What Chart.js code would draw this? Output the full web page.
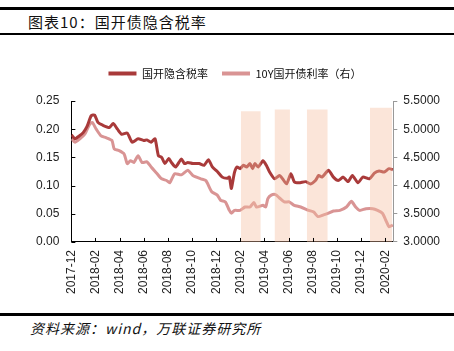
<!DOCTYPE html>
<html>
<head>
<meta charset="utf-8">
<script src="https://cdn.jsdelivr.net/npm/chart.js@4.4.0/dist/chart.umd.min.js"></script>
<style>
  html, body { margin: 0; padding: 0; background: #fff; }
  body { width: 454px; height: 351px; position: relative; overflow: hidden; }
  .rule { position: absolute; left: 0; width: 454px; background: #000; }
  #title { position: absolute; left: 28px; top: 11px; font: 15px "Noto Sans CJK SC"; color: #111; letter-spacing: 1px; }
  #source { position: absolute; left: 30px; top: 318px; font: italic 14px "Noto Sans CJK SC"; color: #111; letter-spacing: 1px; }
  #wrap { position: absolute; left: 0; top: 40px; width: 454px; height: 270px; }
</style>
</head>
<body>
<div class="rule" style="top:7px;height:2.5px"></div>
<div id="title">图表10：国开债隐含税率</div>
<div class="rule" style="top:33px;height:2px"></div>
<div id="wrap"><canvas id="chart"></canvas></div>
<div class="rule" style="top:313px;height:2.5px"></div>
<div id="source">资料来源：wind，万联证券研究所</div>
<script>
// x positions are months since 2017-12
const tickLabels = ["2017-12", "2018-02", "2018-04", "2018-06", "2018-08", "2018-10", "2018-12",
    "2019-02", "2019-04", "2019-06", "2019-08", "2019-10", "2019-12", "2020-02"];

const taxX = [0, 0.30, 0.65, 0.98, 1.30, 1.65, 1.93, 2.20, 2.60, 3.15, 3.47, 3.82, 4.17, 4.63, 5.04, 5.53,
    5.99, 6.26, 6.61, 6.93, 7.21, 7.48, 7.75, 8.07, 8.29, 8.64, 9.11, 9.37, 9.65, 10.06, 10.59, 11.0,
    11.36, 11.68, 12.09, 12.50, 12.90, 13.09, 13.25, 13.36, 13.52, 13.72, 13.98, 14.25, 14.53, 14.80,
    15.02, 15.20, 15.47, 15.88, 16.15, 16.42, 16.83, 17.24, 17.50, 17.83, 18.19, 18.46, 18.86, 19.41,
    19.81, 20.22, 20.49, 20.76, 21.30, 21.71, 22.11, 22.52, 22.93, 23.28, 23.74, 24.15, 24.69, 25.10,
    25.50, 25.91, 26.32, 26.63];
const taxRate = [0.190, 0.183, 0.188, 0.194, 0.205, 0.224, 0.225, 0.212, 0.207, 0.203, 0.210, 0.200, 0.191,
    0.193, 0.177, 0.183, 0.180, 0.181, 0.177, 0.183, 0.153, 0.150, 0.139, 0.148, 0.141, 0.133, 0.147,
    0.139, 0.141, 0.139, 0.139, 0.136, 0.146, 0.133, 0.125, 0.115, 0.113, 0.115, 0.095, 0.106, 0.124,
    0.133, 0.130, 0.136, 0.133, 0.139, 0.130, 0.139, 0.133, 0.144, 0.136, 0.124, 0.112, 0.118, 0.112,
    0.103, 0.121, 0.107, 0.105, 0.107, 0.103, 0.109, 0.118, 0.115, 0.127, 0.115, 0.109, 0.115, 0.107,
    0.118, 0.105, 0.115, 0.112, 0.122, 0.126, 0.124, 0.130, 0.128];

const yieldX = [0, 0.30, 0.71, 1.11, 1.52, 1.73, 2.06, 2.46, 2.87, 3.36, 3.55, 3.96, 4.37, 4.63, 4.90,
    5.18, 5.53, 5.85, 6.26, 6.61, 7.07, 7.48, 7.89, 8.15, 8.56, 9.11, 9.65, 10.06, 10.73, 11.14, 11.63,
    12.09, 12.36, 12.76, 13.09, 13.25, 13.52, 13.98, 14.39, 14.80, 15.12, 15.34, 15.88, 16.10, 16.28,
    16.56, 16.91, 17.24, 17.64, 18.05, 18.46, 19.0, 19.67, 20.08, 20.43, 20.89, 21.30, 21.71, 22.25,
    22.79, 23.20, 23.55, 23.88, 24.41, 24.96, 25.37, 25.77, 26.04, 26.32, 26.63];
const yield10Y = [4.83, 4.77, 4.83, 4.91, 5.09, 5.12, 5.00, 4.88, 4.85, 4.80, 4.65, 4.62, 4.56, 4.39,
    4.44, 4.41, 4.53, 4.41, 4.42, 4.33, 4.22, 4.12, 4.09, 4.05, 4.21, 4.19, 4.27, 4.18, 4.12, 4.09,
    3.89, 3.83, 3.74, 3.71, 3.56, 3.51, 3.56, 3.56, 3.62, 3.62, 3.70, 3.62, 3.65, 3.62, 3.77, 3.83,
    3.84, 3.78, 3.71, 3.71, 3.65, 3.62, 3.56, 3.53, 3.45, 3.48, 3.51, 3.55, 3.56, 3.62, 3.72, 3.62,
    3.56, 3.59, 3.59, 3.56, 3.51, 3.39, 3.27, 3.30];

// shaded periods: start, end (months) and top (left axis units)
const bandStart = [14.04, 16.83, 19.51, 24.74];
const bandEnd = [15.69, 18.11, 21.24, 26.59];
const bandTop = [0.232, 0.235, 0.235, 0.238];

const darkRed = "#A93A3A";
const lightRed = "#D99494";

const datasets = [
    {
        label: "国开隐含税率",
        data: taxX.map((x, i) => ({ x: x, y: taxRate[i] })),
        borderColor: darkRed,
        backgroundColor: darkRed,
        borderWidth: 3,
        pointRadius: 0,
        tension: 0.2,
        yAxisID: "y",
        order: 3,
    },
    {
        label: "10Y国开债利率（右）",
        data: yieldX.map((x, i) => ({ x: x, y: yield10Y[i] })),
        borderColor: lightRed,
        backgroundColor: lightRed,
        borderWidth: 3,
        pointRadius: 0,
        tension: 0.2,
        yAxisID: "y1",
        order: 4,
    },
];

bandStart.forEach((s, i) => {
    datasets.push({
        label: "band" + i,
        data: [{ x: s, y: bandTop[i] }, { x: bandEnd[i], y: bandTop[i] }],
        borderWidth: 0,
        borderColor: "rgba(0,0,0,0)",
        backgroundColor: "rgba(245,190,160,0.4)",
        pointRadius: 0,
        fill: "origin",
        yAxisID: "y",
        order: 1,
    });
});

// small tick marks pointing into the plot
const innerTicks = {
    id: "innerTicks",
    afterDatasetsDraw(chart) {
        const ctx = chart.ctx;
        const xs = chart.scales.x;
        const ys = chart.scales.y;
        ctx.save();
        ctx.strokeStyle = "#000";
        ctx.lineWidth = 1;
        ctx.beginPath();
        xs.ticks.forEach((t) => {
            const px = Math.round(xs.getPixelForValue(t.value)) + 0.5;
            ctx.moveTo(px, xs.top);
            ctx.lineTo(px, xs.top - 4);
        });
        ys.ticks.forEach((t) => {
            const py = Math.round(ys.getPixelForValue(t.value)) + 0.5;
            ctx.moveTo(ys.right, py);
            ctx.lineTo(ys.right + 4, py);
        });
        ctx.stroke();
        ctx.restore();
    },
};

// extra space between legend and plot
const legendGap = {
    id: "legendGap",
    beforeInit(chart) {
        const fit = chart.legend.fit;
        chart.legend.fit = function () {
            fit.bind(chart.legend)();
            this.height += 12;
        };
    },
};

const tickFont = { family: "'Liberation Sans', Arial", size: 12 };

new Chart(document.getElementById("chart").getContext("2d"), {
    type: "line",
    data: { datasets: datasets },
    plugins: [innerTicks, legendGap],
    options: {
        responsive: true,
        maintainAspectRatio: false,
        animation: false,
        layout: { padding: { left: 24, right: 8, top: 14, bottom: 8 } },
        plugins: {
            legend: {
                display: true,
                position: "top",
                labels: {
                    font: { family: "'Noto Sans CJK SC'", size: 11 },
                    color: "#111",
                    boxWidth: 28,
                    boxHeight: 4,
                    padding: 14,
                    filter: (item) => item.datasetIndex < 2,
                    generateLabels: (chart) =>
                        Chart.defaults.plugins.legend.labels.generateLabels(chart).map((l) => ({ ...l, lineWidth: 0 })),
                },
            },
            tooltip: { enabled: false },
        },
        scales: {
            x: {
                type: "linear",
                min: 0,
                max: 26.67,
                afterBuildTicks: (scale) => {
                    scale.ticks = tickLabels.map((_, i) => ({ value: i * 2 }));
                },
                ticks: {
                    font: tickFont,
                    color: "#222",
                    padding: 8,
                    minRotation: 90,
                    maxRotation: 90,
                    autoSkip: false,
                    callback: (v) => tickLabels[Math.round(v / 2)],
                },
                grid: { display: true, drawOnChartArea: false, drawTicks: false },
                border: { display: true, color: "#000", width: 1 },
            },
            y: {
                position: "left",
                min: 0,
                max: 0.25,
                ticks: {
                    stepSize: 0.05,
                    font: tickFont,
                    color: "#222",
                    padding: 12,
                    callback: (v) => v.toFixed(2),
                },
                grid: { display: true, drawOnChartArea: false, drawTicks: false },
                border: { display: true, color: "#000", width: 1 },
            },
            y1: {
                position: "right",
                min: 3,
                max: 5.5,
                ticks: {
                    stepSize: 0.5,
                    font: tickFont,
                    color: "#222",
                    padding: 6,
                    callback: (v) => v.toFixed(4),
                },
                grid: { display: true, drawOnChartArea: false, drawTicks: true, tickLength: 4, color: "#999" },
                border: { display: true, color: "#999", width: 1 },
            },
        },
    },
});
</script>
</body>
</html>
